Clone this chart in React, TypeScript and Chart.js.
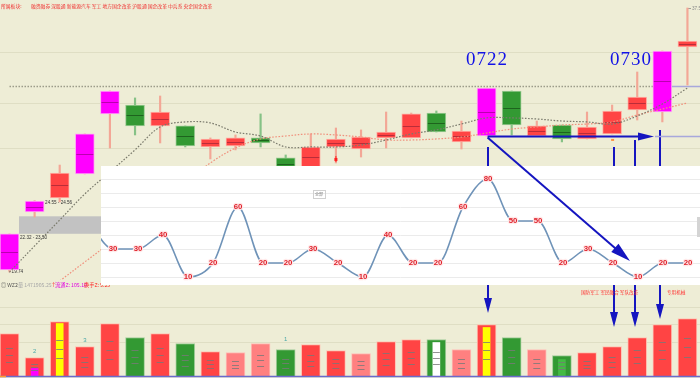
import React, { useEffect, useRef } from 'react';
import { Chart, registerables } from 'chart.js';

Chart.register(...registerables);

// ---------- data ----------
const dates = [
  '2019-06-25', '2019-06-26', '2019-06-27', '2019-06-28', '2019-07-01', '2019-07-02', '2019-07-03',
  '2019-07-04', '2019-07-05', '2019-07-08', '2019-07-09', '2019-07-10', '2019-07-11', '2019-07-12',
  '2019-07-15', '2019-07-16', '2019-07-17', '2019-07-18', '2019-07-19', '2019-07-22', '2019-07-23',
  '2019-07-24', '2019-07-25', '2019-07-26', '2019-07-29', '2019-07-30', '2019-07-31', '2019-08-01',
];
const open = [19.88, 23.79, 24.74, 26.36, 30.41, 31.01, 29.6, 29.6, 28.18, 28.25, 28.79, 27.44, 26.76, 28.18,
  28.04, 28.79, 28.79, 30.47, 28.52, 28.92, 31.96, 28.92, 29.66, 28.72, 29.06, 30.68, 30.54, 34.93];
const close = [22.31, 24.53, 26.42, 29.06, 31.96, 29.6, 30.54, 28.25, 28.72, 28.79, 28.45, 26.63, 28.18, 28.72,
  28.85, 29.19, 30.41, 29.19, 29.26, 32.16, 29.66, 29.6, 28.72, 29.53, 30.61, 31.55, 34.66, 35.33];
const high = [22.31, 24.56, 26.96, 29.06, 31.96, 31.49, 31.62, 29.6, 28.79, 28.99, 30.41, 27.64, 29.06, 29.46,
  29.33, 30.54, 30.47, 30.61, 29.93, 32.16, 31.96, 29.93, 29.66, 30.54, 31.01, 33.24, 34.66, 37.56];
const low = [19.74, 23.45, 24.47, 26.36, 28.11, 28.99, 28.45, 28.18, 27.37, 27.98, 28.18, 26.49, 26.63, 27.1,
  27.5, 28.11, 28.79, 29.19, 28.04, 28.92, 28.99, 28.92, 28.52, 28.72, 29.06, 30.0, 29.87, 32.36];
const limitUp = [true, true, false, true, true, false, false, false, false, false, false, false, false, false,
  false, false, false, false, false, true, false, false, false, false, false, false, true, false];
const ma10 = [19.74, 21.5, 23.25, 25.01, 26.49, 27.98, 29.53, 29.87, 29.8, 29.19, 28.92, 28.18, 28.18, 28.18,
  28.31, 28.65, 29.06, 29.33, 29.73, 30.14, 30.14, 30.07, 29.93, 29.87, 29.73, 30.27, 31.08, 32.16];
const ma20 = [null, null, 19.13, 20.42, 21.7, 23.05, 24.4, 25.75, 27.1, 28.11, 28.72, 28.92, 29.06, 28.99,
  28.85, 28.65, 28.65, 28.72, 28.85, 29.12, 29.39, 29.53, 29.66, 29.73, 29.87, 30.34, 30.74, 31.15];
const volume = [109.1, 48.2, 139.6, 76.1, 134.5, 99.0, 109.1, 83.7, 63.4, 60.9, 83.7, 68.5, 81.2, 66.0,
  58.4, 88.8, 93.9, 93.9, 68.5, 132.0, 99.0, 68.5, 53.3, 60.9, 76.1, 99.0, 132.0, 147.2];
const volumeTone = ['up', 'up', 'up', 'up', 'up', 'down', 'up', 'down', 'up', 'weak', 'weak', 'down', 'up', 'up',
  'weak', 'up', 'up', 'down', 'weak', 'up', 'down', 'weak', 'down', 'up', 'up', 'up', 'up', 'up'];
const highlightDays = [1, 2, 17, 19, 22];
const highlightVolume = [20.3, 134.5, 86.3, 124.4, 43.1];
const highlightTone = ['limit', 'hot', 'blank', 'hot', 'mild'];
const volumeMarkDays = [1, 3, 11];
const volumeMarks = ['2', '3', '1'];
// overlay series: starts at dates[3]
const heatDates = dates.slice(3);
const heat = [50, 30, 30, 40, 10, 20, 60, 20, 20, 30, 20, 10, 40, 20, 20, 60, 80, 50, 50, 20, 30, 20, 10, 20, 20];
const gapLow = 22.32;
const gapHigh = 23.5;
const rangeLabel = '24.55 - 24.56';
const resistance = 32.3;
const sectorTitle = '所属板块:';
const sectors = '融资融券 深股通 新能源汽车 军工 地方国企改革 沪股通 国企改革 中兵系 央企国企改革';
const noteA = '国防军工 军民融合 军队改革';
const noteB = '专用机械';

const BG = '#EEEDD6';
const CJK = '"Noto Sans CJK SC"';

function head(ctx: CanvasRenderingContext2D, x1: number, y1: number, x2: number, y2: number, len: number, half: number) {
  const a = Math.atan2(y2 - y1, x2 - x1);
  const bx = x2 - len * Math.cos(a);
  const by = y2 - len * Math.sin(a);
  ctx.beginPath();
  ctx.moveTo(x2, y2);
  ctx.lineTo(bx + half * Math.sin(a), by - half * Math.cos(a));
  ctx.lineTo(bx - half * Math.sin(a), by + half * Math.cos(a));
  ctx.closePath();
  ctx.fill();
}

function arrow(ctx: CanvasRenderingContext2D, x1: number, y1: number, x2: number, y2: number, len: number, half: number) {
  const a = Math.atan2(y2 - y1, x2 - x1);
  ctx.beginPath();
  ctx.moveTo(x1, y1);
  ctx.lineTo(x2 - (len - 2) * Math.cos(a), y2 - (len - 2) * Math.sin(a));
  ctx.stroke();
  head(ctx, x1, y1, x2, y2, len, half);
}

export default function App() {
  const ref = useRef<HTMLCanvasElement | null>(null);

  useEffect(() => {
    document.body.style.margin = '0';
    document.body.style.overflow = 'hidden';
    const canvas = ref.current;
    if (!canvas) return;

    const idx = dates.map((_, i) => i);
    const tone = idx.map((i) => (limitUp[i] ? 'limit' : close[i] >= open[i] ? 'up' : 'down'));
    const bodyFill: any = { limit: '#FF00FF', up: '#FF4444', down: '#339933' };
    const bodyEdge: any = { limit: '#FFA8F4', up: '#FFB0A4', down: '#9CCB94' };
    const wickCol: any = { limit: '#F3A796', up: '#F3A796', down: '#86C286' };
    const midCol: any = { limit: 'rgba(140,0,120,0.6)', up: 'rgba(140,30,50,0.6)', down: 'rgba(20,70,20,0.65)' };
    const volFill: any = { up: '#FF4444', weak: '#FF8080', down: '#339933' };
    const volEdge: any = { up: '#FFC4B4', weak: '#FFC0B8', down: '#A4CE9C' };
    const hlFill: any = { limit: '#FF00FF', hot: '#FFFF00', blank: '#FFFFFF', mild: '#44BB44' };

    const PANEL = 6;

    const deco = {
      id: 'deco',
      beforeDraw(chart: any) {
        const { ctx, width, height } = chart;
        ctx.save();
        ctx.fillStyle = BG;
        ctx.fillRect(0, 0, width, height);
        ctx.strokeStyle = 'rgba(205,203,175,0.45)';
        ctx.lineWidth = 1;
        [52.5, 103.5, 148.5, 307.5, 324.5, 342.5].forEach((y) => {
          ctx.beginPath();
          ctx.moveTo(0, y);
          ctx.lineTo(width, y);
          ctx.stroke();
        });
        ctx.restore();
      },
      beforeDatasetsDraw(chart: any) {
        const { ctx, width } = chart;
        const x = chart.scales.x;
        const y = chart.scales.y;
        ctx.save();
        // gap band
        ctx.fillStyle = '#C2C2C2';
        const gx = x.getPixelForValue(0) + 9.5;
        ctx.fillRect(gx, y.getPixelForValue(gapHigh), width - gx, y.getPixelForValue(gapLow) - y.getPixelForValue(gapHigh));
        // resistance line
        const ry = Math.round(y.getPixelForValue(resistance)) + 0.5;
        ctx.strokeStyle = '#9C9C8A';
        ctx.lineWidth = 1.5;
        ctx.setLineDash([1.5, 1.5]);
        ctx.beginPath();
        ctx.moveTo(x.getPixelForValue(0), ry);
        ctx.lineTo(x.getPixelForValue(26.2), ry);
        ctx.stroke();
        ctx.setLineDash([]);
        ctx.strokeStyle = '#A8A8DC';
        ctx.beginPath();
        ctx.moveTo(x.getPixelForValue(26.2), ry);
        ctx.lineTo(width, ry);
        ctx.stroke();
        // top texts
        ctx.textBaseline = 'middle';
        ctx.fillStyle = '#F03030';
        ctx.font = `4.8px ${CJK}`;
        ctx.fillText(sectorTitle, 1, 6);
        ctx.fillText(sectors, 31, 6);
        // price labels
        ctx.fillStyle = '#333333';
        ctx.font = '4.6px "Liberation Sans"';
        ctx.fillText(rangeLabel, x.getPixelForValue(1) + 10.5, 203);
        ctx.fillText(`${gapLow.toFixed(2)} - ${gapHigh.toFixed(2)}`, gx + 1, y.getPixelForValue(gapLow) + 3.5);
        ctx.fillText(`↑ ${low[0].toFixed(2)}`, 8, y.getPixelForValue(low[0]));
        ctx.fillStyle = '#8A8A8A';
        ctx.fillText(`${high[27].toFixed(2)}`, 692, y.getPixelForValue(high[27]) + 1);
        ctx.strokeStyle = '#8A8A8A';
        ctx.lineWidth = 0.8;
        ctx.beginPath();
        ctx.moveTo(688, y.getPixelForValue(high[27]) + 0.5);
        ctx.lineTo(691, y.getPixelForValue(high[27]) + 0.5);
        ctx.stroke();
        ctx.restore();
      },
      beforeDatasetDraw(chart: any, args: any) {
        if (args.index !== PANEL) return;
        const { ctx, width } = chart;
        const yp = chart.scales.yPanel;
        ctx.save();
        // vertical blue arrows (partly hidden by the panel)
        ctx.strokeStyle = '#1515C0';
        ctx.fillStyle = '#1515C0';
        ctx.lineWidth = 2;
        const vArrows = [
          [488, 147, 313],
          [614, 147, 327],
          [635, 140, 327],
          [660, 130, 319],
        ];
        vArrows.forEach(([vx, top, tip]) => arrow(ctx, vx, top, vx, tip, 15, 4));
        // header row of volume pane
        ctx.textBaseline = 'middle';
        ctx.font = `5.2px ${CJK}`;
        [
          ['◎ WZ2', '#505050', 1],
          ['量 1471905.25', '#A8A8A8', 18],
          ['↑', '#FF2020', 51],
          ['流通Z: 105.10', '#E000E0', 55],
          ['换手Z: 5.23', '#FF2020', 84],
          ['MA5: 93.62', '#3030FF', 112],
          ['MA10: 88.15', '#E030E0', 146],
          ['MA20: 86.40', '#20B020', 183],
          ['MA30: 81.77', '#909020', 214],
          ['MA60: 79.05', '#FF7020', 228],
          ['VOL5: 92.4', '#3030FF', 240],
          ['VOL10: 88.7', '#E030E0', 256],
          ['VOL20: 84.1', '#20B020', 300],
          ['VOL30: 80.6', '#3030FF', 330],
          ['VOL60: 77.3', '#909090', 355],
          ['VOL120: 70.2', '#FF7020', 372],
        ].forEach(([t, c, px]: any) => {
          ctx.fillStyle = c;
          ctx.fillText(t, px, px > 100 ? 283.2 : 285.5);
        });
        // white panel
        const top = 166;
        const bottom = 285;
        ctx.fillStyle = '#FFFFFF';
        ctx.fillRect(101, top, width - 101, bottom - top);
        ctx.strokeStyle = '#EBEBEB';
        ctx.lineWidth = 1;
        [10, 20, 30, 40, 50, 60, 70, 80].forEach((v) => {
          const gy = Math.round(yp.getPixelForValue(v)) + 0.5;
          ctx.beginPath();
          ctx.moveTo(101, gy);
          ctx.lineTo(width, gy);
          ctx.stroke();
        });
        // tiny legend box
        ctx.fillStyle = '#FFFFFF';
        ctx.strokeStyle = '#D0D0D0';
        ctx.strokeRect(313.5, 190.5, 12, 8);
        ctx.fillStyle = '#777777';
        ctx.font = `4px ${CJK}`;
        ctx.fillText('全部', 315, 194.5);
        // scrollbar stub
        ctx.fillStyle = '#D4D4D4';
        ctx.fillRect(697, 217, 3, 20);
        ctx.restore();
      },
      afterDatasetDraw(chart: any, args: any) {
        const { ctx } = chart;
        if (args.index === 1) {
          ctx.save();
          ctx.lineWidth = 1;
          chart.getDatasetMeta(1).data.forEach((el: any, j: number) => {
            const mid = Math.round((el.y + el.base) / 2) + 0.5;
            ctx.strokeStyle = midCol[tone[j]];
            ctx.beginPath();
            ctx.moveTo(el.x - el.width / 2 + 1, mid);
            ctx.lineTo(el.x + el.width / 2 - 1, mid);
            ctx.stroke();
          });
          ctx.restore();
        }
        if (args.index === 5) {
          ctx.save();
          ctx.strokeStyle = 'rgba(120,120,120,0.8)';
          ctx.lineWidth = 1;
          chart.getDatasetMeta(4).data.forEach((el: any) => {
            const h = el.base - el.y;
            [1 / 3, 1 / 2, 2 / 3].forEach((f) => {
              const dy = Math.round(el.y + h * f) + 0.5;
              ctx.beginPath();
              ctx.moveTo(el.x - 3.5, dy);
              ctx.lineTo(el.x + 3.5, dy);
              ctx.stroke();
            });
          });
          ctx.restore();
        }
      },
      afterDatasetsDraw(chart: any) {
        const { ctx, width } = chart;
        const x = chart.scales.x;
        const y = chart.scales.y;
        const yv = chart.scales.yVol;
        ctx.save();
        // baseline of volume pane
        const by = yv.getPixelForValue(0);
        ctx.strokeStyle = '#6A6ACC';
        ctx.lineWidth = 1.5;
        ctx.beginPath();
        ctx.moveTo(0, by);
        ctx.lineTo(width, by);
        ctx.stroke();
        ctx.strokeStyle = '#FF9A30';
        ctx.beginPath();
        ctx.moveTo(0, by);
        ctx.lineTo(6, by);
        ctx.stroke();
        // labels on overlay line
        const meta = chart.getDatasetMeta(PANEL);
        ctx.font = 'bold 7.8px "Liberation Sans"';
        ctx.textAlign = 'center';
        ctx.textBaseline = 'middle';
        ctx.lineJoin = 'round';
        meta.data.forEach((pt: any, j: number) => {
          if (pt.x < 101) return;
          const t = String(heat[j]);
          ctx.strokeStyle = 'rgba(255,232,232,0.95)';
          ctx.lineWidth = 2.4;
          ctx.strokeText(t, pt.x, pt.y);
          ctx.fillStyle = '#E0202A';
          ctx.fillText(t, pt.x, pt.y);
        });
        // markers
        ctx.fillStyle = '#FF2020';
        const mx = x.getPixelForValue(13);
        const my = y.getPixelForValue(low[13]) - 4;
        ctx.fillRect(mx - 1.5, my - 1, 3, 3);
        ctx.fillRect(mx - 0.5, my - 3, 1, 6);
        ctx.fillStyle = '#FF9040';
        ctx.fillRect(x.getPixelForValue(24) - 1, y.getPixelForValue(low[24]) + 5, 3, 2);
        // teal volume marks
        ctx.font = '6px "Liberation Sans"';
        ctx.fillStyle = '#4AA8A8';
        const vm = chart.getDatasetMeta(4).data;
        volumeMarkDays.forEach((d, j) => {
          ctx.fillText(volumeMarks[j], vm[d].x, vm[d].y - (j === 2 ? 10 : 6));
        });
        // red sector notes
        ctx.textAlign = 'left';
        ctx.font = `4.6px ${CJK}`;
        ctx.fillStyle = '#FF3030';
        ctx.fillText(noteA, 581, 292);
        ctx.fillText(noteB, 667, 292);
        // blue annotations
        ctx.strokeStyle = '#1515C0';
        ctx.fillStyle = '#1515C0';
        ctx.lineWidth = 2;
        const hy = Math.round(y.getPixelForValue(open[19])) + 0.5;
        arrow(ctx, x.getPixelForValue(19) + 1, hy, 654, hy, 16, 4);
        ctx.strokeStyle = '#A8A8DC';
        ctx.lineWidth = 1.5;
        ctx.beginPath();
        ctx.moveTo(655, hy);
        ctx.lineTo(width, hy);
        ctx.stroke();
        ctx.strokeStyle = '#1515C0';
        ctx.lineWidth = 2;
        arrow(ctx, x.getPixelForValue(19) + 1, hy + 1, 630, 261, 20, 5.5);
        ctx.fillStyle = '#1212E6';
        ctx.font = '19px "Liberation Serif"';
        ctx.textBaseline = 'alphabetic';
        '0722'.split('').forEach((c, j) => ctx.fillText(c, 466 + j * 10.5, 65));
        '0730'.split('').forEach((c, j) => ctx.fillText(c, 610 + j * 10.5, 65));
        ctx.restore();
      },
    };

    const chart = new Chart(canvas, {
      type: 'bar',
      data: {
        datasets: [
          {
            type: 'bar',
            label: 'wick',
            data: idx.map((i) => ({ x: i, y: [low[i], high[i]] })) as any,
            xAxisID: 'x',
            yAxisID: 'y',
            backgroundColor: idx.map((i) => wickCol[tone[i]]),
            barThickness: 1.5,
            grouped: false,
            order: 20,
          },
          {
            type: 'bar',
            label: 'K',
            data: idx.map((i) => ({ x: i, y: [open[i], close[i]] })) as any,
            xAxisID: 'x',
            yAxisID: 'y',
            backgroundColor: idx.map((i) => bodyFill[tone[i]]),
            borderColor: idx.map((i) => bodyEdge[tone[i]]),
            borderWidth: 1,
            borderSkipped: false,
            barThickness: 19,
            grouped: false,
            order: 19,
          },
          {
            type: 'line',
            label: 'MA10',
            data: idx.map((i) => ({ x: i, y: ma10[i] })) as any,
            xAxisID: 'x',
            yAxisID: 'y',
            borderColor: '#7A7A6C',
            borderWidth: 1.2,
            borderDash: [1.6, 1.6],
            pointRadius: 0,
            tension: 0.35,
            clip: { left: 0, top: 0, right: 0, bottom: -98 } as any,
            order: 18,
          },
          {
            type: 'line',
            label: 'MA20',
            data: idx.filter((i) => ma20[i] !== null).map((i) => ({ x: i, y: ma20[i] })) as any,
            xAxisID: 'x',
            yAxisID: 'y',
            borderColor: '#F0907C',
            borderWidth: 1.2,
            borderDash: [1.6, 1.6],
            pointRadius: 0,
            tension: 0.35,
            clip: { left: 0, top: 0, right: 0, bottom: -98 } as any,
            order: 18,
          },
          {
            type: 'bar',
            label: 'VOL',
            data: idx.map((i) => ({ x: i, y: volume[i] })) as any,
            xAxisID: 'x',
            yAxisID: 'yVol',
            backgroundColor: idx.map((i) => volFill[volumeTone[i]]),
            borderColor: idx.map((i) => volEdge[volumeTone[i]]),
            borderWidth: 1,
            borderSkipped: 'bottom',
            barThickness: 19,
            grouped: false,
            order: 17,
          },
          {
            type: 'bar',
            label: 'VOL-HL',
            data: highlightDays.map((d, j) => ({ x: d, y: highlightVolume[j] })) as any,
            xAxisID: 'x',
            yAxisID: 'yVol',
            backgroundColor: highlightTone.map((t) => hlFill[t]),
            barThickness: 7,
            grouped: false,
            order: 16,
          },
          {
            type: 'line',
            label: 'heat',
            data: heat.map((v, j) => ({ x: j, y: v, d: heatDates[j] })) as any,
            xAxisID: 'xPanel',
            yAxisID: 'yPanel',
            borderColor: '#6F93B8',
            borderWidth: 1.6,
            pointRadius: 0,
            cubicInterpolationMode: 'monotone',
            clip: { left: -101, top: -166, right: 0, bottom: -93 } as any,
            order: 1,
          },
        ],
      },
      options: {
        animation: false,
        responsive: true,
        maintainAspectRatio: false,
        events: [],
        layout: { padding: 0 },
        plugins: { legend: { display: false }, tooltip: { enabled: false } },
        scales: {
          x: { type: 'linear', min: -0.378, max: 27.5, display: false, offset: false },
          xPanel: { type: 'linear', axis: 'x', min: -3.52, max: 24.48, display: false, offset: false },
          y: { type: 'linear', min: 12.585, max: 38.1, display: false },
          yVol: { type: 'linear', axis: 'y', min: -3.81, max: 955.5, display: false },
          yPanel: { type: 'linear', axis: 'y', min: -62.14, max: 207.86, display: false },
        } as any,
      },
      plugins: [deco],
    } as any);

    return () => chart.destroy();
  }, []);

  return (
    <div style={{ position: 'relative', width: 700, height: 378 }}>
      <canvas ref={ref} />
    </div>
  );
}
